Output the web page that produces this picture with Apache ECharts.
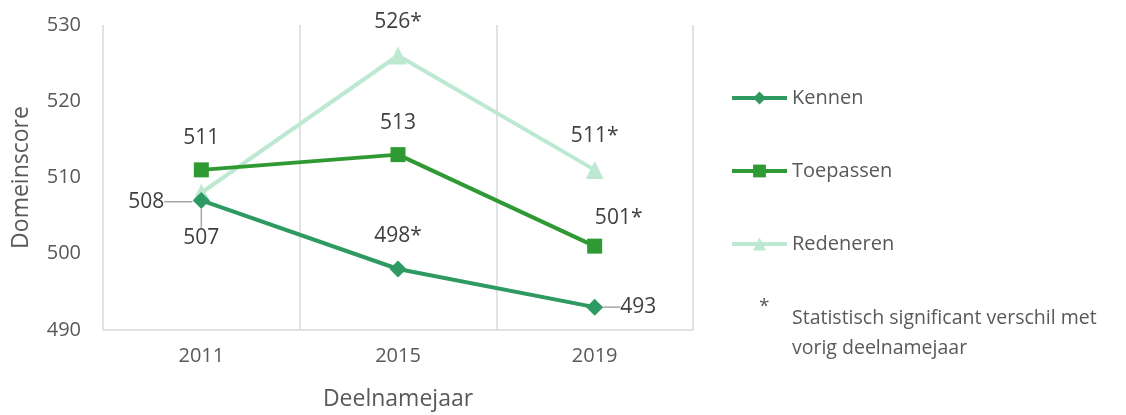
<!DOCTYPE html>
<html><head><meta charset="utf-8">
<script src="https://cdn.jsdelivr.net/npm/echarts@6/dist/echarts.min.js"></script>
<style>html,body{margin:0;padding:0;background:#fff}#c{width:1126px;height:415px}</style>
</head><body><div id="c"></div>
<script>
const years = ['2011', '2015', '2019'];
const kennen = [507, 498, 493];
const toepassen = [511, 513, 501];
const redeneren = [508, 526, 511];
const kennenSig = [false, true, false];
const toepassenSig = [false, false, true];
const redenerenSig = [false, true, true];
const yTicks = [490, 500, 510, 520, 530];

const FONT = 'Open Sans';
const chart = echarts.init(document.getElementById('c'));
const guide = { show: true, length: 0, length2: 0, lineStyle: { color: '#a6a6a6', width: 1.5 } };

function mk(vals, sig) {
  return vals.map((v, i) => ({ value: v, sigLabel: v + (sig[i] ? '*' : ''), labelLine: { show: false } }));
}
const lbl = (extra) => Object.assign({
  show: true, color: '#404040', fontSize: 21, fontFamily: FONT,
  formatter: p => p.data.sigLabel
}, extra);

const kData = mk(kennen, kennenSig);
kData[0].label = { position: 'bottom', distance: 4 };
kData[0].labelLine = guide;
kData[2].label = { position: 'right', distance: 4 };
kData[2].labelLine = guide;
const tData = mk(toepassen, toepassenSig);
const rData = mk(redeneren, redenerenSig);
rData[0].label = { position: 'left', distance: 4 };
rData[0].labelLine = guide;

chart.setOption({
  animation: false,
  grid: { left: 103, right: 433, top: 25, bottom: 85, outerBoundsMode: 'none', containLabel: false },
  xAxis: {
    type: 'category', data: years, boundaryGap: true,
    name: 'Deelnamejaar', nameLocation: 'middle', nameGap: 58,
    nameTextStyle: { color: '#595959', fontSize: 23, fontFamily: FONT },
    axisLine: { lineStyle: { color: '#d9d9d9', width: 1.5 } },
    axisTick: { show: false },
    axisLabel: { color: '#595959', fontSize: 20, fontFamily: FONT, margin: 16 },
    splitLine: { show: true, lineStyle: { color: '#d9d9d9', width: 1.5 } }
  },
  yAxis: {
    type: 'value', min: yTicks[0], max: yTicks[yTicks.length - 1], interval: 10,
    name: 'Domeinscore', nameLocation: 'middle', nameGap: 70,
    nameTextStyle: { color: '#595959', fontSize: 23, fontFamily: FONT },
    axisLine: { show: false }, axisTick: { show: false },
    axisLabel: { color: '#595959', fontSize: 20, fontFamily: FONT, margin: 22 },
    splitLine: { show: false }
  },
  legend: {
    orient: 'vertical', left: 725, top: 83, itemGap: 53,
    itemWidth: 55, itemHeight: 16,
    textStyle: { color: '#595959', fontSize: 20, fontFamily: FONT },
    data: [
      { name: 'Kennen', lineStyle: { width: 4 } },
      { name: 'Toepassen', lineStyle: { width: 4 } },
      { name: 'Redeneren', lineStyle: { width: 4 } }
    ]
  },
  graphic: [
    { type: 'text', left: 759, top: 297, style: { text: '*', fill: '#595959', fontSize: 19, fontFamily: FONT } },
    { type: 'text', left: 792, top: 303, style: { text: 'Statistisch significant verschil met\nvorig deelnamejaar', fill: '#595959', fontSize: 19.5, lineHeight: 30, fontFamily: FONT } }
  ],
  series: [
    {
      name: 'Kennen', type: 'line', data: kData, z: 3,
      symbol: 'diamond', symbolSize: 17,
      lineStyle: { color: '#2e9a62', width: 4 }, itemStyle: { color: '#2e9a62' },
      label: lbl({ position: 'top', distance: 14 }),
      labelLayout: p => p.dataIndex === 0 ? { dy: 15 } : (p.dataIndex === 2 ? { dx: 13 } : {})
    },
    {
      name: 'Toepassen', type: 'line', data: tData, z: 4,
      symbol: 'rect', symbolSize: 15,
      lineStyle: { color: '#2f9a33', width: 4 }, itemStyle: { color: '#2f9a33' },
      label: lbl({ position: 'top', distance: 14 }),
      labelLayout: p => p.dataIndex === 2 ? { dx: 24, dy: 4 } : {}
    },
    {
      name: 'Redeneren', type: 'line', data: rData, z: 2,
      symbol: 'triangle', symbolSize: 18,
      lineStyle: { color: '#bde8d2', width: 4 }, itemStyle: { color: '#bde8d2' },
      label: lbl({ position: 'top', distance: 14 }),
      labelLayout: p => p.dataIndex === 0 ? { dx: -24, dy: 9 } : {}
    }
  ]
});
</script></body></html>
